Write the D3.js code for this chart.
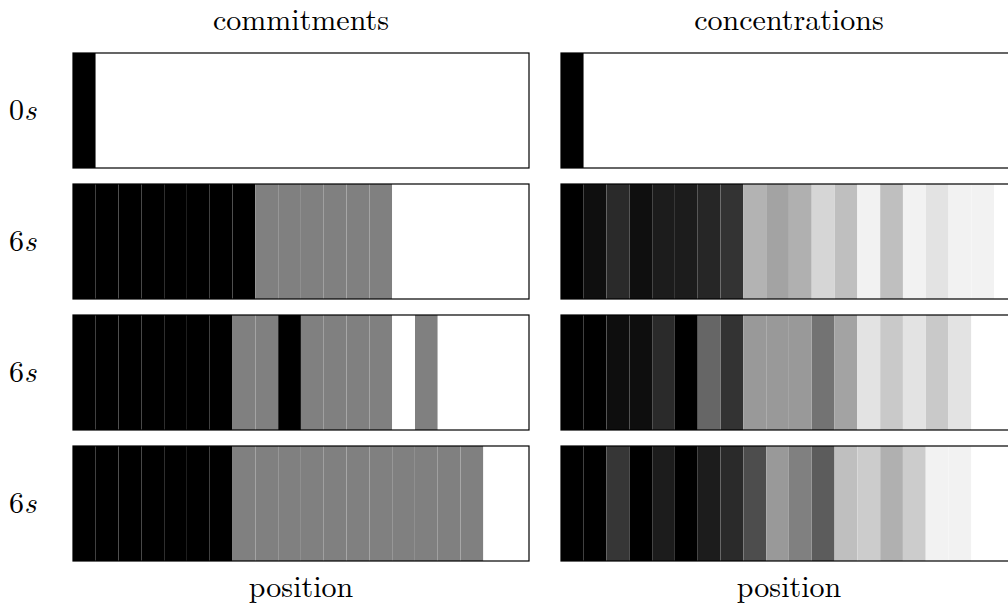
<!DOCTYPE html>
<html>
<head>
<meta charset="utf-8">
<script src="https://cdn.jsdelivr.net/npm/d3@7"></script>
<style>
  html, body { margin: 0; padding: 0; background: #fff; overflow: hidden; }
  svg { display: block; }
</style>
</head>
<body>
<svg id="chart" width="1008" height="614"></svg>
<script>
// Row labels (simulation time of each snapshot)
const rowTimes = ["0", "6", "6", "6"];
const panelTitles = ["commitments", "concentrations"];
const axisLabel = "position";
const positions = d3.range(20);

// Commitment state per cell: 1 = committed, 0.5 = partially committed, 0 = uncommitted
const commit0 = [1, 0, 0, 0, 0, 0, 0, 0, 0, 0, 0, 0, 0, 0, 0, 0, 0, 0, 0, 0];
const commit1 = [1, 1, 1, 1, 1, 1, 1, 1, 0.5, 0.5, 0.5, 0.5, 0.5, 0.5, 0, 0, 0, 0, 0, 0];
const commit2 = [1, 1, 1, 1, 1, 1, 1, 0.5, 0.5, 1, 0.5, 0.5, 0.5, 0.5, 0, 0.5, 0, 0, 0, 0];
const commit3 = [1, 1, 1, 1, 1, 1, 1, 0.5, 0.5, 0.5, 0.5, 0.5, 0.5, 0.5, 0.5, 0.5, 0.5, 0.5, 0, 0];

// Normalised concentration per cell (1 = highest)
const conc0 = [1, 0, 0, 0, 0, 0, 0, 0, 0, 0, 0, 0, 0, 0, 0, 0, 0, 0, 0, 0];
const conc1 = [1, 0.94, 0.835, 0.94, 0.89, 0.89, 0.85, 0.8, 0.3, 0.36, 0.31, 0.16, 0.25, 0.05, 0.25, 0.05, 0.11, 0.05, 0.05, 0];
const conc2 = [1, 1, 0.945, 0.945, 0.835, 1, 0.6, 0.8, 0.4, 0.4, 0.4, 0.55, 0.36, 0.11, 0.21, 0.11, 0.21, 0.11, 0, 0];
const conc3 = [1, 1, 0.79, 1, 0.89, 1, 0.89, 0.835, 0.7, 0.4, 0.5, 0.64, 0.25, 0.2, 0.31, 0.2, 0.05, 0.05, 0, 0];

const commitRows = [commit0, commit1, commit2, commit3];
const concRows = [conc0, conc1, conc2, conc3];
const panels = [commitRows, concRows];

const svg = d3.select("#chart");

const fontFamily = "Latin Modern Roman";
const fontSize = 30;
const panelWidth = 456;
const panelLefts = [73, 561];

// Vertical placement of the four snapshot rows
const y = d3.scaleBand()
  .domain(d3.range(rowTimes.length))
  .range([53, 561])
  .paddingInner(16 / 131)
  .paddingOuter(0);

// Grey level: 0 -> white, 1 -> black
const shade = d3.scaleLinear().domain([0, 1]).range(["#ffffff", "#000000"]).interpolate(d3.interpolateRgb);

function label(sel) {
  return sel.attr("font-family", fontFamily).attr("font-size", fontSize).attr("fill", "#000");
}

panels.forEach((rows, pi) => {
  const x0 = panelLefts[pi];
  const x = d3.scaleBand().domain(positions).range([x0, x0 + panelWidth]).padding(0);

  const g = svg.append("g");

  rows.forEach((vals, ri) => {
    const row = g.append("g");
    row.selectAll("rect.cell")
      .data(vals)
      .join("rect")
      .attr("class", "cell")
      .attr("x", (d, i) => x(i))
      .attr("y", y(ri))
      .attr("width", x.bandwidth() - 0.12)
      .attr("height", y.bandwidth())
      .attr("fill", d => shade(d));

    row.append("rect")
      .attr("x", x0)
      .attr("y", y(ri))
      .attr("width", panelWidth)
      .attr("height", y.bandwidth())
      .attr("fill", "none")
      .attr("stroke", "#000")
      .attr("stroke-width", 1.2);
  });

  // Panel title
  svg.append("text")
    .call(label)
    .attr("x", x0 + panelWidth / 2)
    .attr("y", 30)
    .attr("text-anchor", "middle")
    .text(panelTitles[pi]);

  // Axis label
  svg.append("text")
    .call(label)
    .attr("x", x0 + panelWidth / 2)
    .attr("y", 597)
    .attr("text-anchor", "middle")
    .text(axisLabel);
});

// Row labels: time with italic unit
rowTimes.forEach((t, ri) => {
  const txt = svg.append("text")
    .call(label)
    .attr("x", 9)
    .attr("y", y(ri) + y.bandwidth() / 2 + 9);
  txt.append("tspan").text(t);
  txt.append("tspan").attr("font-style", "italic").text("s");
});
</script>
</body>
</html>
